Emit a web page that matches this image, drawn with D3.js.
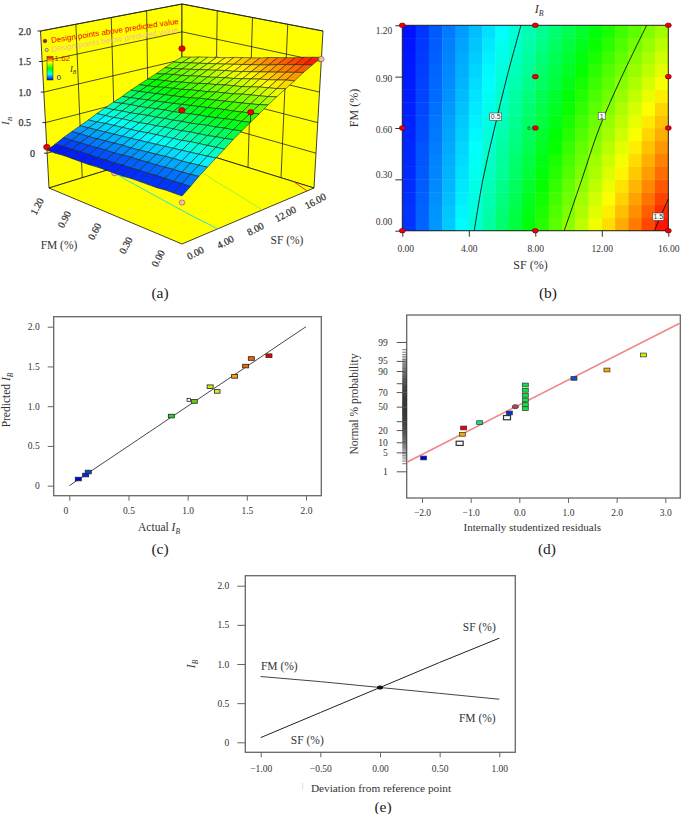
<!DOCTYPE html>
<html><head><meta charset="utf-8">
<script src="https://cdnjs.cloudflare.com/ajax/libs/d3/7.8.5/d3.min.js"></script>
<style>
html,body{margin:0;padding:0;background:#fff}
svg{display:block}
text{font-family:"Liberation Serif",serif;fill:#333}
.tick text{font-size:9.5px;fill:#333}
.sans{font-family:"Liberation Sans",sans-serif}
</style></head><body>
<svg id="c" width="685" height="814" viewBox="0 0 685 814"></svg>
<script>
// ---------- data ----------
const sfGrid = [0,0.8,1.6,2.4,3.2,4,4.8,5.6,6.4,7.2,8,8.8,9.6,10.4,11.2,12,12.8,13.6,14.4,15.2,16];
const fmGrid = [0,.075,.15,.225,.3,.375,.45,.525,.6,.675,.75,.825,.9,.975,1.05,1.125,1.2];
const ibGrid = [
[.09,.16,.24,.31,.39,.46,.53,.61,.68,.76,.83,.90,.98,1.05,1.13,1.20,1.27,1.35,1.42,1.50,1.57],
[.09,.16,.23,.31,.38,.45,.52,.60,.67,.74,.81,.89,.96,1.03,1.10,1.18,1.25,1.32,1.39,1.47,1.54],
[.09,.16,.23,.30,.37,.44,.51,.58,.65,.72,.80,.87,.94,1.01,1.08,1.15,1.22,1.29,1.36,1.43,1.51],
[.08,.15,.22,.29,.36,.43,.50,.57,.64,.71,.78,.85,.92,.99,1.06,1.13,1.19,1.26,1.33,1.40,1.47],
[.08,.15,.22,.28,.35,.42,.49,.56,.62,.69,.76,.83,.90,.96,1.03,1.10,1.17,1.24,1.30,1.37,1.44],
[.08,.14,.21,.28,.34,.41,.48,.54,.61,.68,.74,.81,.88,.94,1.01,1.08,1.14,1.21,1.27,1.34,1.41],
[.08,.14,.21,.27,.34,.40,.47,.53,.60,.66,.73,.79,.86,.92,.99,1.05,1.12,1.18,1.25,1.31,1.38],
[.07,.14,.20,.26,.33,.39,.45,.52,.58,.64,.71,.77,.83,.90,.96,1.02,1.09,1.15,1.22,1.28,1.34],
[.07,.13,.19,.26,.32,.38,.44,.50,.57,.63,.69,.75,.81,.88,.94,1.00,1.06,1.12,1.19,1.25,1.31],
[.07,.13,.19,.25,.31,.37,.43,.49,.55,.61,.67,.73,.79,.85,.91,.98,1.04,1.10,1.16,1.22,1.28],
[.07,.12,.18,.24,.30,.36,.42,.48,.54,.60,.66,.71,.77,.83,.89,.95,1.01,1.07,1.13,1.19,1.25],
[.06,.12,.18,.23,.29,.35,.41,.46,.52,.58,.64,.69,.75,.81,.87,.92,.98,1.04,1.10,1.15,1.21],
[.06,.12,.17,.23,.28,.34,.40,.45,.51,.56,.62,.68,.73,.79,.84,.90,.96,1.01,1.07,1.12,1.18],
[.06,.11,.17,.22,.28,.33,.38,.44,.49,.55,.60,.66,.71,.77,.82,.88,.93,.98,1.04,1.09,1.15],
[.06,.11,.16,.21,.27,.32,.37,.43,.48,.53,.59,.64,.69,.74,.80,.85,.90,.96,1.01,1.06,1.12],
[.05,.10,.16,.21,.26,.31,.36,.41,.46,.52,.57,.62,.67,.72,.77,.82,.88,.93,.98,1.03,1.08],
[.05,.10,.15,.20,.25,.30,.35,.40,.45,.50,.55,.60,.65,.70,.75,.80,.85,.90,.95,1.00,1.05]];
const sfMesh = [0,1,2,3,4,5,6,7,8,9,10,11,12,13,14,15,16];
const ibMesh = [
[.09,.18,.28,.37,.46,.55,.65,.74,.83,.92,1.02,1.11,1.20,1.29,1.39,1.48,1.57],
[.09,.18,.27,.36,.45,.54,.63,.72,.81,.90,.99,1.08,1.17,1.27,1.36,1.45,1.54],
[.09,.17,.26,.35,.44,.53,.62,.71,.80,.88,.97,1.06,1.15,1.24,1.33,1.42,1.51],
[.08,.17,.26,.34,.43,.52,.60,.69,.78,.86,.95,1.04,1.13,1.21,1.30,1.39,1.47],
[.08,.17,.25,.34,.42,.51,.59,.68,.76,.85,.93,1.02,1.10,1.19,1.27,1.36,1.44],
[.08,.16,.24,.33,.41,.49,.58,.66,.74,.83,.91,.99,1.07,1.16,1.24,1.32,1.41],
[.08,.16,.24,.32,.40,.48,.56,.64,.73,.81,.89,.97,1.05,1.13,1.21,1.29,1.38],
[.07,.15,.23,.31,.39,.47,.55,.63,.71,.79,.87,.95,1.03,1.10,1.18,1.26,1.34],
[.07,.15,.23,.30,.38,.46,.54,.61,.69,.77,.85,.92,1.00,1.08,1.15,1.23,1.31],
[.07,.14,.22,.29,.37,.45,.52,.60,.67,.75,.82,.90,.98,1.05,1.13,1.20,1.28],
[.07,.14,.21,.29,.36,.43,.51,.58,.66,.73,.80,.88,.95,1.02,1.10,1.17,1.25],
[.06,.13,.21,.28,.35,.42,.49,.57,.64,.71,.78,.85,.92,1.00,1.07,1.14,1.21],
[.06,.13,.20,.27,.34,.41,.48,.55,.62,.69,.76,.83,.90,.97,1.04,1.11,1.18],
[.06,.13,.19,.26,.33,.40,.47,.53,.60,.67,.74,.81,.87,.94,1.01,1.08,1.15],
[.06,.12,.19,.25,.32,.39,.45,.52,.59,.65,.72,.78,.85,.92,.98,1.05,1.12],
[.05,.12,.18,.25,.31,.37,.44,.50,.57,.63,.70,.76,.83,.89,.95,1.02,1.08],
[.05,.11,.18,.24,.30,.36,.43,.49,.55,.61,.68,.74,.80,.86,.93,.99,1.05]];
const contour05 = [[4.33,0],[4.85,.3],[5.55,.6],[6.3,.9],[7.14,1.2]];
const contour10 = [[9.74,0],[10.8,.3],[11.85,.6],[13.2,.9],[14.7,1.2]];
const contour15 = [[15.16,0],[16,.185]];
const designPts2D = [[0,0],[0,.6],[0,1.2],[8,0],[8,.6],[8,.9],[8,1.2],[16,0],[16,.6],[16,.9],[16,1.2]];
const pointsAbove = [[0,1.2,.10],[16,1.2,1.2],[8,.6,.73],[8,0,.98]];
const pointsBelow = [[0,.6,.07],[0,0,0],[16,.9,1.15]];
const pointsBelowFront = [[16,0,1.54]];
const actual    = [.076,.138,.16,.862,1.01,1.056,1.19,1.25,1.397,1.49,1.538,1.687];
const predicted = [.084,.134,.172,.876,1.08,1.06,1.245,1.186,1.375,1.505,1.60,1.635];
const actualCol = ["#0000e8","#0a28e0","#0a45e0","#10e020","#ffffff","#66cc10","#ccf000","#e0e820","#ffa000","#ee6a00","#f86000","#f00000"];
const residuals = [-1.966,-1.226,-1.171,-1.144,-.815,-.253,-.205,-.082,.123,.123,.123,.123,.123,.123,1.123,1.801,2.555];
const normalScore = [-1.847,-1.319,-.995,-.767,-.576,-.396,-.228,0,-.072,.072,.24,.408,.588,.779,1.019,1.319,1.859];
const residCol = ["#0000e8","#ffffff","#f5a800","#f00000","#10e080","#ffffff","#0030e0","#b04848","#10e040","#10e040","#10e040","#10e040","#10e040","#10e040","#0a50d0","#f0b000","#ccf000"];
const probLabels = ["1","5","10","20","","50","70","","90","95","99"];
const probScores = [-2.326,-1.645,-1.282,-.842,-.524,0,.524,.842,1.282,1.645,2.326];
const normalLine = [[-2.33,-2.014],[3.295,3.0]];
const pertSF = [[-1,.06],[-.5,.38],[0,.70],[.5,1.02],[1,1.33]];
const pertFM = [[-1,.84],[-.5,.775],[0,.70],[.5,.625],[1,.55]];

// ---------- shared ----------
const svg = d3.select("#c");
const colorZ = d3.scaleLinear().domain([.05,.425,.8,1.175,1.55]).range(["#0000ff","#00ffff","#00ff00","#ffff00","#ff0000"]).clamp(true);
function ibLabel(sel,x,y,size,rot,prefix){
  const t = sel.append("text").attr("text-anchor","middle").attr("font-size",size)
    .attr("transform",`translate(${x},${y})`+(rot?` rotate(${rot})`:""));
  if(prefix) t.append("tspan").text(prefix);
  t.append("tspan").attr("font-style","italic").text("I");
  t.append("tspan").attr("font-style","italic").attr("font-size",size*.65).attr("dy",size*.25).text("B");
  return t;
}
function caption(txt,x,y){ svg.append("text").attr("x",x).attr("y",y).attr("text-anchor","middle").attr("font-size",15.5).style("fill","#222").text(txt); }
function style(g,color){
  g.select(".domain").remove();
  g.selectAll(".tick line").attr("stroke",color||"#555");
  return g;
}
function plain(sel,txt,x,y,size,rot){
  return sel.append("text").attr("text-anchor","middle").attr("font-size",size)
    .attr("transform",`translate(${x},${y})`+(rot?` rotate(${rot})`:"")).text(txt);
}

// ---------- (a) ----------
(function(){
  const g = svg.append("g");
  const bot = {F:[182,244],R:[314,188],B:[182,147],L:[49,188]};
  const top = {F:[182,57],R:[323,31],B:[182,4],L:[40.5,31]};
  const uS = d3.scaleLinear([0,16],[0,1]), vS = d3.scaleLinear([0,1.2],[0,1]), hS = d3.scaleLinear([-.57,2],[0,1]);
  const quad=(q,u,v,i)=>(q.F[i]*(1-u)+q.R[i]*u)*(1-v)+(q.L[i]*(1-u)+q.B[i]*u)*v;
  const P=(sf,fm,z)=>{const u=uS(sf),v=vS(fm),h=hS(z);
    return [0,1].map(i=>quad(bot,u,v,i)*(1-h)+quad(top,u,v,i)*h);};
  const zMin=-.57, zTicks=[0,.5,1,1.5,2];
  const line=d3.line();
  const poly=pts=>"M"+pts.map(p=>p.join(",")).join("L")+"Z";
  g.append("path").attr("d",poly([P(0,1.2,zMin),P(0,1.2,2),P(16,1.2,2),P(16,1.2,zMin)])).attr("fill","#ffff00").attr("stroke","#111").attr("stroke-width",.8);
  g.append("path").attr("d",poly([P(16,1.2,zMin),P(16,1.2,2),P(16,0,2),P(16,0,zMin)])).attr("fill","#ffff00").attr("stroke","#111").attr("stroke-width",.8);
  g.append("path").attr("d",poly([P(0,0,zMin),P(16,0,zMin),P(16,1.2,zMin),P(0,1.2,zMin)])).attr("fill","#ffff00").attr("stroke","#111").attr("stroke-width",.8);
  zTicks.forEach(z=>{
    g.append("path").attr("d",line([P(0,1.2,z),P(16,1.2,z),P(16,0,z)])).attr("fill","none").attr("stroke","#222").attr("stroke-width",.8);
  });
  [4,8,12].forEach(s=>g.append("path").attr("d",line([P(s,1.2,zMin),P(s,1.2,2)])).attr("stroke","#222").attr("stroke-width",.8));
  [.3,.6,.9].forEach(f=>g.append("path").attr("d",line([P(16,f,zMin),P(16,f,2)])).attr("stroke","#222").attr("stroke-width",.8));
  [[contour05,"#30e0c0"],[contour10,"#a0f040"],[contour15,"#f03010"]].forEach(([c,col])=>{
    g.append("path").attr("d",line(c.map(d=>P(d[0],d[1],zMin)))).attr("fill","none").attr("stroke",col).attr("stroke-width",1);
  });
  const dot=(d,red)=>g.append("ellipse").attr("cx",P(d[0],d[1],d[2])[0]).attr("cy",P(d[0],d[1],d[2])[1]).attr("rx",red?3.2:2.8).attr("ry",red?2.8:2.6)
      .attr("fill",red?"#e8000a":"#f8b8b8").attr("stroke",red?"#700":"#655").attr("stroke-width",.6);
  pointsBelow.forEach(d=>dot(d,false));
  // surface, far to near
  for(let i=sfMesh.length-2;i>=0;i--) for(let j=fmGrid.length-2;j>=0;j--){
    const m=(ibMesh[j][i]+ibMesh[j][i+1]+ibMesh[j+1][i]+ibMesh[j+1][i+1])/4;
    g.append("path").attr("d",poly([P(sfMesh[i],fmGrid[j],ibMesh[j][i]),P(sfMesh[i+1],fmGrid[j],ibMesh[j][i+1]),P(sfMesh[i+1],fmGrid[j+1],ibMesh[j+1][i+1]),P(sfMesh[i],fmGrid[j+1],ibMesh[j+1][i])]))
      .attr("fill",colorZ(m)).attr("stroke","#222").attr("stroke-width",.6);
  }
  g.append("path").attr("d",line([P(8,0,.98),P(8,0,.83)])).attr("stroke","#111").attr("stroke-width",.8);
  pointsAbove.forEach(d=>dot(d,true));
  pointsBelowFront.forEach(d=>dot(d,false));
  const labelStyle=t=>t.attr("font-size",10).attr("stroke","#333").attr("stroke-width",.25).style("fill","#333");
  zTicks.forEach(z=>{const p=P(0,1.2,z);
    g.append("line").attr("x1",p[0]-3).attr("x2",p[0]).attr("y1",p[1]).attr("y2",p[1]).attr("stroke","#222");
    labelStyle(g.append("text").attr("x",z===0?35:31).attr("y",p[1]+3.5).attr("text-anchor","end")).text(z===0?"0":z.toFixed(1));
  });
  ibLabel(g,9,121,11,-90);
  const fmT=[1.2,.9,.6,.3,0], fmOff=[[-9,17],[-15,16],[-18,14],[-20,14],[-21,13]];
  fmT.forEach((f,i)=>{const p=P(0,f,zMin);
    labelStyle(g.append("text").attr("transform",`translate(${p[0]+fmOff[i][0]},${p[1]+fmOff[i][1]+3}) rotate(-62)`).attr("text-anchor","middle")).text(f.toFixed(2));});
  const sfT=[0,4,8,12,16], sfOff=[[15,9],[12,12],[9,13],[6,12],[3,13]];
  sfT.forEach((s,i)=>{const p=P(s,0,zMin);
    labelStyle(g.append("text").attr("transform",`translate(${p[0]+sfOff[i][0]},${p[1]+sfOff[i][1]+3}) rotate(-28)`).attr("text-anchor","middle")).text(s.toFixed(2));});
  plain(g,"FM (%)",59,249,11.5);
  plain(g,"SF (%)",287,244,11.5);
  g.append("text").attr("class","sans").attr("transform","translate(51.5,43) rotate(-8.6)").attr("font-size",8).style("fill","#f00000").text("Design points above predicted value");
  g.append("text").attr("class","sans").attr("transform","translate(51.5,52) rotate(-8.8)").attr("font-size",8).style("fill","#f0c0a0").text("Design points below predicted value");
  g.append("circle").attr("cx",45).attr("cy",41).attr("r",1.8).attr("fill","#a01010").attr("stroke","#222").attr("stroke-width",.5);
  g.append("circle").attr("cx",46.7).attr("cy",50).attr("r",1.6).attr("fill","#f8d0d0").attr("stroke","#222").attr("stroke-width",.5);
  const defs=svg.append("defs"), gr=defs.append("linearGradient").attr("id","leg").attr("x1",0).attr("x2",0).attr("y1",1).attr("y2",0);
  colorZ.domain().forEach((d,i)=>gr.append("stop").attr("offset",i/4).attr("stop-color",colorZ(d)));
  g.append("rect").attr("x",47).attr("y",56.7).attr("width",6).attr("height",23.3).attr("fill","url(#leg)").attr("stroke","#222").attr("stroke-width",.5);
  g.append("text").attr("class","sans").attr("x",54.5).attr("y",60.5).attr("font-size",8).style("fill","#e01010").text("1.62");
  g.append("text").attr("class","sans").attr("x",56.5).attr("y",79.5).attr("font-size",8).style("fill","#1010c0").text("0");
  ibLabel(g,73,72,8.5);
  caption("(a)",160,298);
})();

// ---------- (b) ----------
(function(){
  const g=svg.append("g");
  const x=d3.scaleLinear([0,16],[402.3,668.3]), y=d3.scaleLinear([0,1.2],[230.7,25.3]);
  for(let i=0;i<sfGrid.length-1;i++) for(let j=0;j<fmGrid.length-1;j++){
    const m=(ibGrid[j][i]+ibGrid[j][i+1]+ibGrid[j+1][i]+ibGrid[j+1][i+1])/4;
    g.append("rect").attr("x",x(sfGrid[i])).attr("y",y(fmGrid[j+1]))
      .attr("width",x(sfGrid[i+1])-x(sfGrid[i])+.4).attr("height",y(fmGrid[j])-y(fmGrid[j+1])+.4).attr("fill",colorZ(m));
  }
  g.append("rect").attr("x",x(0)).attr("y",y(1.2)).attr("width",x(16)-x(0)).attr("height",y(0)-y(1.2)).attr("fill","none").attr("stroke","#222");
  const ax=style(g.append("g").attr("transform",`translate(0,${y(0)})`).call(d3.axisBottom(x).tickValues([0,4,8,12,16]).tickSize(6).tickFormat(d3.format(".2f"))),"#333");
  ax.selectAll("text").attr("dy","1.25em").attr("dx",(d,i)=>[3,0,0,0,0][i]);
  const ay=style(g.append("g").attr("transform",`translate(${x(0)},0)`).call(d3.axisLeft(y).tickValues([0,.3,.6,.9,1.2]).tickSize(7).tickFormat(d3.format(".2f"))),"#333");
  ay.selectAll("text").attr("dy",(d,i)=>[-6.5,-2,4,4.4,7.7][i]);
  const l=d3.line().x(d=>x(d[0])).y(d=>y(d[1])).curve(d3.curveCatmullRom);
  [contour05,contour10,contour15].forEach(c=>g.append("path").attr("d",l(c)).attr("fill","none").attr("stroke","#111").attr("stroke-width",.9));
  [["0.5",495.7,116.7,12],["1",601.7,116,7],["1.5",658.3,216.7,11]].forEach(([t,cx,cy,w])=>{
    g.append("rect").attr("x",cx-w/2).attr("y",cy-3.7).attr("width",w).attr("height",7.4).attr("fill","#fff").attr("stroke","#444").attr("stroke-width",.6);
    g.append("text").attr("class","sans").attr("x",cx).attr("y",cy+2.6).attr("text-anchor","middle").attr("font-size",7).text(t);
  });
  designPts2D.forEach(d=>g.append("ellipse").attr("cx",x(d[0])).attr("cy",y(d[1])).attr("rx",3).attr("ry",2.3).attr("fill","#e8000a").attr("stroke","#600").attr("stroke-width",.6));
  g.append("text").attr("x",x(8)-4.5).attr("y",y(.6)+2).attr("text-anchor","end").attr("font-size",7).text("6");
  ibLabel(g,539,13,12);
  plain(g,"SF (%)",530.5,269,12);
  plain(g,"FM (%)",358,108,12,-90);
  caption("(b)",548,298);
})();

// ---------- (c) ----------
(function(){
  const g=svg.append("g");
  const x=d3.scaleLinear([0,2],[69.3,306]), y=d3.scaleLinear([0,2],[485.7,326.7]);
  g.append("rect").attr("x",53.7).attr("y",316.7).attr("width",267.6).attr("height",179).attr("fill","#fff").attr("stroke","#666").attr("stroke-width",1.3);
  const ax=style(g.append("g").attr("transform","translate(0,495.7)").call(d3.axisBottom(x).tickValues([0,.5,1,1.5,2]).tickSize(5).tickFormat(d=>d===0?"0":d.toFixed(1))),"#666");
  ax.selectAll("text").attr("dy","1.05em").attr("dx",(d,i)=>i?0:-4);
  style(g.append("g").attr("transform","translate(53.7,0)").call(d3.axisLeft(y).tickValues([0,.5,1,1.5,2]).tickSize(6).tickFormat(d=>d===0?"0":d.toFixed(1))),"#666")
    .selectAll("text").attr("dx",-5);
  g.append("line").attr("x1",x(0)).attr("y1",y(0)).attr("x2",x(2)).attr("y2",y(2)).attr("stroke","#333").attr("stroke-width",.9);
  actual.forEach((a,i)=>{
    const small=i===4;
    const w=small?3.5:(i===7?5.5:6), h=small?3:3.6;
    g.append("rect").attr("x",x(a)-w/2).attr("y",y(predicted[i])-h/2).attr("width",w).attr("height",h).attr("fill",actualCol[i]).attr("stroke","#222").attr("stroke-width",.8);
  });
  ibLabel(g,159,531,11.5,0,"Actual ");
  ibLabel(g,10,400,11.5,-90,"Predicted ");
  caption("(c)",160,554);
})();

// ---------- (d) ----------
(function(){
  const g=svg.append("g");
  const x=d3.scaleLinear([-2,3],[422,665.3]), y=d3.scaleLinear([-2.326,2.326],[471.3,342]);
  g.append("rect").attr("x",406.7).attr("y",315).attr("width",273.6).attr("height",183).attr("fill","#fff").attr("stroke","#666").attr("stroke-width",1.3);
  const ax=style(g.append("g").attr("transform","translate(0,498)").call(d3.axisBottom(x).tickValues([-2,-1,0,1,2,3]).tickSize(5).tickFormat(d3.format(".1f"))),"#666");
  ax.selectAll("text").attr("dy","1.1em");
  // rug of minor probability ticks, by percentile, through a standard inverse-normal
  const probit=p=>{const a=.147,l=Math.log(1-(2*p-1)**2),t=2/(Math.PI*a)+l/2;return Math.sign(2*p-1)*Math.SQRT2*Math.sqrt(Math.sqrt(t*t-l/a)-t);};
  d3.range(20,985,5).forEach(k=>{const v=y(probit(k/1000));
    g.append("line").attr("x1",402.3).attr("x2",406.7).attr("y1",v).attr("y2",v).attr("stroke","#222").attr("stroke-width",.6);});
  const ay=d3.axisLeft(y).tickValues(probScores).tickSize(10).tickFormat((d,i)=>probLabels[i]);
  style(g.append("g").attr("transform","translate(406.7,0)").call(ay),"#555").selectAll("text").attr("dx",-6);
  svg.append("clipPath").attr("id","cd").append("rect").attr("x",406.7).attr("y",315).attr("width",273.6).attr("height",183);
  g.append("path").attr("clip-path","url(#cd)").attr("d",d3.line().x(d=>x(d[0])).y(d=>y(d[1]))(normalLine)).attr("stroke","#f08888").attr("stroke-width",1.7).attr("fill","none");
  residuals.forEach((r,i)=>{
    const c=residCol[i], white=c==="#ffffff";
    const w=white?7:6,h=white?4.2:3.8;
    if(c==="#b04848") g.append("ellipse").attr("cx",x(r)).attr("cy",y(normalScore[i])).attr("rx",3.2).attr("ry",2).attr("fill",c).attr("stroke","#333").attr("stroke-width",.7);
    else g.append("rect").attr("x",x(r)-w/2).attr("y",y(normalScore[i])-h/2).attr("width",w).attr("height",h).attr("fill",c).attr("stroke","#333").attr("stroke-width",white?1.2:.7);
  });
  plain(g,"Internally studentized residuals",532.3,531,11);
  plain(g,"Normal % probability",358,404,11.5,-90);
  caption("(d)",547,554);
})();

// ---------- (e) ----------
(function(){
  const g=svg.append("g");
  const x=d3.scaleLinear([-1,1],[260.7,499.3]), y=d3.scaleLinear([0,2],[742.3,585.7]);
  g.append("rect").attr("x",245.3).attr("y",575.7).attr("width",270).attr("height",176.6).attr("fill","#fff").attr("stroke","#666").attr("stroke-width",1.3);
  const ax=style(g.append("g").attr("transform","translate(0,752.3)").call(d3.axisBottom(x).tickValues([-1,-.5,0,.5,1]).tickSize(5).tickFormat(d3.format(".2f"))),"#666");
  ax.selectAll("text").attr("dy","1.18em");
  style(g.append("g").attr("transform","translate(245.3,0)").call(d3.axisLeft(y).tickValues([0,.5,1,1.5,2]).tickSize(8).tickFormat(d=>d===0?"0":d.toFixed(1))),"#666")
    .selectAll("text").attr("dx",-5);
  const l=d3.line().x(d=>x(d[0])).y(d=>y(d[1]));
  g.append("path").attr("d",l(pertFM)).attr("fill","none").attr("stroke","#444").attr("stroke-width",1);
  g.append("path").attr("d",l(pertSF)).attr("fill","none").attr("stroke","#222").attr("stroke-width",1);
  g.append("ellipse").attr("cx",x(0)).attr("cy",y(.70)).attr("rx",3).attr("ry",2).attr("fill","#111");
  plain(g,"SF (%)",479.3,631,11.5);
  plain(g,"FM (%)",279.3,670,11.5);
  plain(g,"FM (%)",477.3,722,11.5);
  plain(g,"SF (%)",307.3,744,11.5);
  ibLabel(g,195,664,11.5,-90);
  plain(g,"Deviation from reference point",381,791.5,11.3);
  g.append("line").attr("x1",302.7).attr("x2",302.7).attr("y1",783).attr("y2",790).attr("stroke","#ddd");
  caption("(e)",383,812);
})();
</script>
</body></html>
